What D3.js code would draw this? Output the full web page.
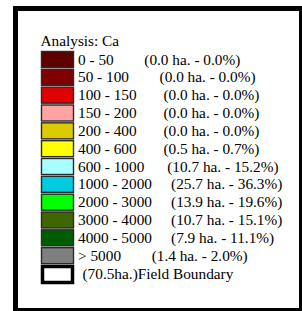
<!DOCTYPE html>
<html>
<head>
<meta charset="utf-8">
<script src="https://cdn.jsdelivr.net/npm/d3@7"></script>
<style>
  html, body { margin: 0; padding: 0; background: #fff; }
  svg { display: block; }
  text { white-space: pre; }
</style>
</head>
<body>
<svg id="chart"></svg>
<script>
// Soil analysis legend — calcium classes, area per class

const TITLE = "Analysis: Ca";

const RANGES = [
  "0 - 50", "50 - 100", "100 - 150", "150 - 200", "200 - 400", "400 - 600",
  "600 - 1000", "1000 - 2000", "2000 - 3000", "3000 - 4000", "4000 - 5000", "> 5000"
];
const HECTARES = [0.0, 0.0, 0.0, 0.0, 0.0, 0.5, 10.7, 25.7, 13.9, 10.7, 7.9, 1.4];
const PERCENTS = [0.0, 0.0, 0.0, 0.0, 0.0, 0.7, 15.2, 36.3, 19.6, 15.1, 11.1, 2.0];
const COLORS = [
  "#5e0000", "#800000", "#e00000", "#ffa3a3", "#dccb00", "#ffff00",
  "#a8ffff", "#00cce0", "#00ff00", "#3f6600", "#005c00", "#7f7f7f"
];
// padding between the range and the area text, as in the source legend
const PADS = [8, 8, 7, 7, 7, 7, 6, 5, 5, 5, 5, 8];

const FIELD_HA = 70.5;

(function () {
  const W = 302, H = 311;
  const FONT = "'Liberation Serif', 'Times New Roman', serif";
  const FS = 15.3;

  const svg = d3.select("#chart").attr("width", W).attr("height", H);

  // thick black frame (right and bottom run off the edge)
  svg.append("rect")
    .attr("x", 15.5).attr("y", 8.5)
    .attr("width", 286).attr("height", 302)
    .attr("fill", "#fff")
    .attr("stroke", "#000")
    .attr("stroke-width", 5);

  const nRows = RANGES.length + 1;
  const y = d3.scaleLinear().domain([0, nRows - 1]).range([51, 265]);
  const swX = 41, swW = 32, swH = 16;
  const textX = 78;

  svg.append("text")
    .attr("x", 40.5).attr("y", 45.5)
    .attr("font-family", FONT).attr("font-size", FS)
    .attr("fill", "#000")
    .text(TITLE);

  RANGES.forEach((r, i) => {
    const top = y(i);
    svg.append("rect")
      .attr("x", swX + 0.5).attr("y", top + 0.5)
      .attr("width", swW).attr("height", swH)
      .attr("fill", COLORS[i])
      .attr("stroke", "#2a2a2a")
      .attr("stroke-width", 1.4);

    const label = r + " ".repeat(PADS[i]) +
      `(${HECTARES[i].toFixed(1)} ha. - ${PERCENTS[i].toFixed(1)}%)`;
    svg.append("text")
      .attr("x", textX).attr("y", top + 13.5)
      .attr("font-family", FONT).attr("font-size", FS)
      .attr("fill", "#000")
      .attr("xml:space", "preserve")
      .text(label);
  });

  // field boundary entry
  const fTop = y(nRows - 1);
  svg.append("rect")
    .attr("x", swX + 1.5).attr("y", fTop + 1.5)
    .attr("width", swW - 2).attr("height", swH)
    .attr("fill", "#fff")
    .attr("stroke", "#000")
    .attr("stroke-width", 3.5);
  svg.append("text")
    .attr("x", 82.5).attr("y", fTop + 14)
    .attr("font-family", FONT).attr("font-size", FS)
    .attr("fill", "#000")
    .text(`(${FIELD_HA}ha.)Field Boundary`);
})();
</script>
</body>
</html>
